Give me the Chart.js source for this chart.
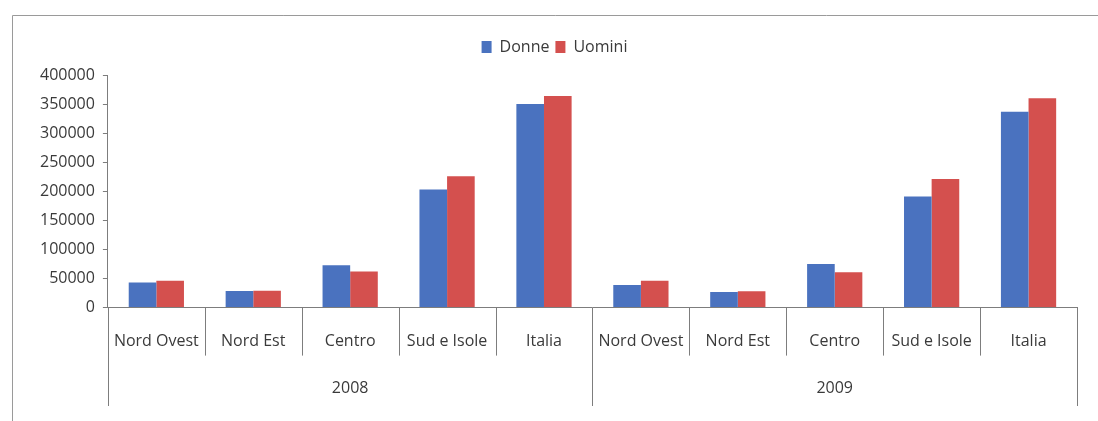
<!DOCTYPE html>
<html lang="it">
<head>
<meta charset="utf-8">
<title>Donne e Uomini per ripartizione</title>
<script src="https://cdn.jsdelivr.net/npm/chart.js@4/dist/chart.umd.min.js"></script>
<style>
    html, body { margin: 0; padding: 0; background: #ffffff; }
    #wrap { width: 1098px; height: 421px; position: relative; }
</style>
</head>
<body>
<div id="wrap"><canvas id="graficoRipartizioni"></canvas></div>
<script>
const regions = ['Nord Ovest', 'Nord Est', 'Centro', 'Sud e Isole', 'Italia'];
const years = ['2008', '2009'];
const donne2008 = [43000, 28500, 73000, 203000, 350000];
const uomini2008 = [46000, 29000, 62000, 226000, 364000];
const donne2009 = [39000, 27000, 75000, 191000, 337000];
const uomini2009 = [46000, 28000, 61000, 221000, 360000];
const yTicks = [0, 50000, 100000, 150000, 200000, 250000, 300000, 350000, 400000];

const textColor = '#3a3a3a';
const lineColor = '#7d7d7d';
const fontFamily = '"Open Sans", "Liberation Sans", sans-serif';

// frame of the chart, plus the lines between the category boxes and the year groups
const separatori = {
    id: 'separatori',
    beforeDraw(chart) {
        const ctx = chart.ctx;
        ctx.save();
        ctx.strokeStyle = '#9a9a9a';
        ctx.lineWidth = 1;
        ctx.beginPath();
        ctx.moveTo(12.5, chart.height);
        ctx.lineTo(12.5, 15.5);
        ctx.lineTo(chart.width, 15.5);
        ctx.stroke();
        ctx.restore();
    },
    afterDraw(chart) {
        const x = chart.scales.x;
        const x2 = chart.scales.x2;
        const ctx = chart.ctx;
        const n = x.getLabels().length;
        const step = x.getPixelForValue(1) - x.getPixelForValue(0);
        ctx.save();
        ctx.strokeStyle = lineColor;
        ctx.lineWidth = 1;
        for (let i = 0; i <= n; i++) {
            const px = Math.round(x.getPixelForValue(i) - step / 2) + 0.5;
            const end = i % regions.length === 0 ? x2.bottom + 4 : x.top + 48;
            ctx.beginPath();
            ctx.moveTo(px, x.top);
            ctx.lineTo(px, end);
            ctx.stroke();
        }
        ctx.restore();
    }
};

const ctx = document.getElementById('graficoRipartizioni').getContext('2d');
const grafico = new Chart(ctx, {
    type: 'bar',
    data: {
        labels: [...regions, ...regions],
        datasets: [{
            label: 'Donne',
            data: [...donne2008, ...donne2009],
            backgroundColor: '#4a72bf',
            borderWidth: 0,
            barPercentage: 1,
            categoryPercentage: 0.57
        }, {
            label: 'Uomini',
            data: [...uomini2008, ...uomini2009],
            backgroundColor: '#d4504e',
            borderWidth: 0,
            barPercentage: 1,
            categoryPercentage: 0.57
        }]
    },
    options: {
        responsive: true,
        maintainAspectRatio: false,
        animation: false,
        layout: {
            padding: { top: 33, left: 32, right: 21, bottom: 19 }
        },
        plugins: {
            legend: {
                position: 'top',
                labels: {
                    boxWidth: 10,
                    boxHeight: 12,
                    padding: 6,
                    color: textColor,
                    font: { family: fontFamily, size: 16 }
                }
            },
            // empty title box sitting between legend and plot, used as a spacer
            title: {
                display: true,
                text: '',
                position: 'top',
                weight: 500,
                font: { size: 1, lineHeight: 1 },
                padding: { top: 0, bottom: 9 }
            },
            tooltip: { enabled: false }
        },
        scales: {
            x: {
                type: 'category',
                offset: true,
                grid: { display: false, drawTicks: false },
                border: { display: true, color: lineColor, width: 1 },
                ticks: {
                    color: textColor,
                    padding: 24,
                    maxRotation: 0,
                    autoSkip: false,
                    font: { family: fontFamily, size: 16 }
                }
            },
            x2: {
                type: 'category',
                labels: years,
                position: 'bottom',
                offset: true,
                grid: { display: false, drawTicks: false },
                border: { display: false },
                ticks: {
                    color: textColor,
                    padding: 4,
                    font: { family: fontFamily, size: 16 }
                }
            },
            y: {
                min: 0,
                max: 400000,
                afterBuildTicks: (scale) => {
                    scale.ticks = yTicks.map(v => ({ value: v }));
                },
                grid: {
                    drawOnChartArea: false,
                    drawTicks: true,
                    tickLength: 5,
                    color: lineColor
                },
                border: { display: true, color: lineColor, width: 1 },
                ticks: {
                    color: textColor,
                    padding: 8,
                    font: { family: fontFamily, size: 16 },
                    callback: (value) => String(value)
                }
            }
        }
    },
    plugins: [separatori]
});
</script>
</body>
</html>
